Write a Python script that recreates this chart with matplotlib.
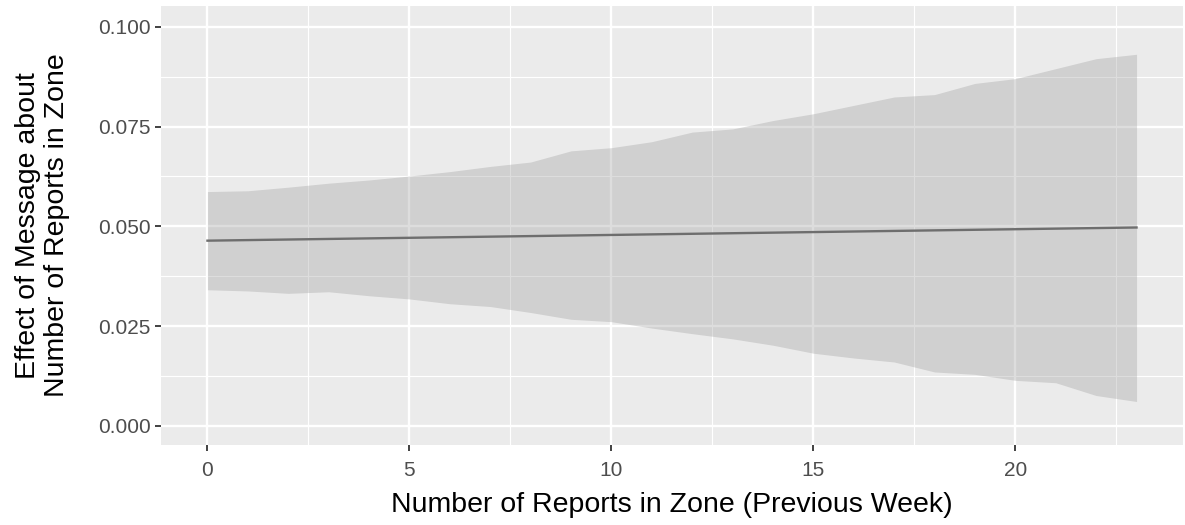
import matplotlib
matplotlib.use("Agg")
import matplotlib.pyplot as plt
import numpy as np

reports = list(range(24))
upper = [0.0587, 0.0589, 0.0598, 0.0608, 0.0616, 0.0626, 0.0637, 0.0650, 0.0661, 0.0689,
         0.0697, 0.0712, 0.0736, 0.0744, 0.0765, 0.0782, 0.0803, 0.0824, 0.0830, 0.0858,
         0.0870, 0.0895, 0.0920, 0.0931]
lower = [0.0341, 0.0338, 0.0332, 0.0336, 0.0326, 0.0318, 0.0306, 0.0299, 0.0284, 0.0267,
         0.0261, 0.0245, 0.0231, 0.0218, 0.0202, 0.0182, 0.0170, 0.0160, 0.0135, 0.0129,
         0.0114, 0.0108, 0.0076, 0.0061]
fit_x = [0, 23]
fit_y = [0.0464, 0.0497]
x_ticks = [0, 5, 10, 15, 20]
y_ticks = [0.000, 0.025, 0.050, 0.075, 0.100]
y_tick_labels = ["0.000", "0.025", "0.050", "0.075", "0.100"]

plt.rcParams['font.family'] = ['Liberation Sans', 'DejaVu Sans']

fig = plt.figure(figsize=(11.85, 5.25), dpi=100)
ax = fig.add_axes([161/1185, 80/525, 1022/1185, 439/525])
ax.set_facecolor('#EBEBEB')
for s in ax.spines.values():
    s.set_visible(False)

ax.set_xlim(-1.15, 24.15)
ax.set_ylim(-0.0048, 0.1052)

ax.set_xticks(x_ticks)
ax.set_xticks([2.5, 7.5, 12.5, 17.5, 22.5], minor=True)
ax.set_yticks(y_ticks)
ax.set_yticklabels(y_tick_labels)
ax.set_yticks([0.0125, 0.0375, 0.0625, 0.0875], minor=True)
ax.grid(which='major', color='white', linewidth=1.7)
ax.grid(which='minor', color='white', linewidth=0.85)
ax.set_axisbelow(True)
ax.tick_params(which='major', length=4.5, width=1.3, color='#333333', labelcolor='#4D4D4D',
               labelsize=15, pad=3)
ax.tick_params(axis='x', which='major', pad=7)
ax.tick_params(which='minor', length=0)

ax.fill_between(reports, lower, upper, color='#999999', alpha=0.33, linewidth=0, zorder=2)
ax.plot(fit_x, fit_y, color='#6E6E6E', linewidth=1.7, zorder=3)

ax.set_xlabel('Number of Reports in Zone (Previous Week)', fontsize=20.5, color='black', labelpad=9)
ax.set_ylabel('Effect of Message about\nNumber of Reports in Zone', fontsize=20.5, color='black',
              labelpad=20, linespacing=1.15)

fig.savefig('out.png', dpi=100)
